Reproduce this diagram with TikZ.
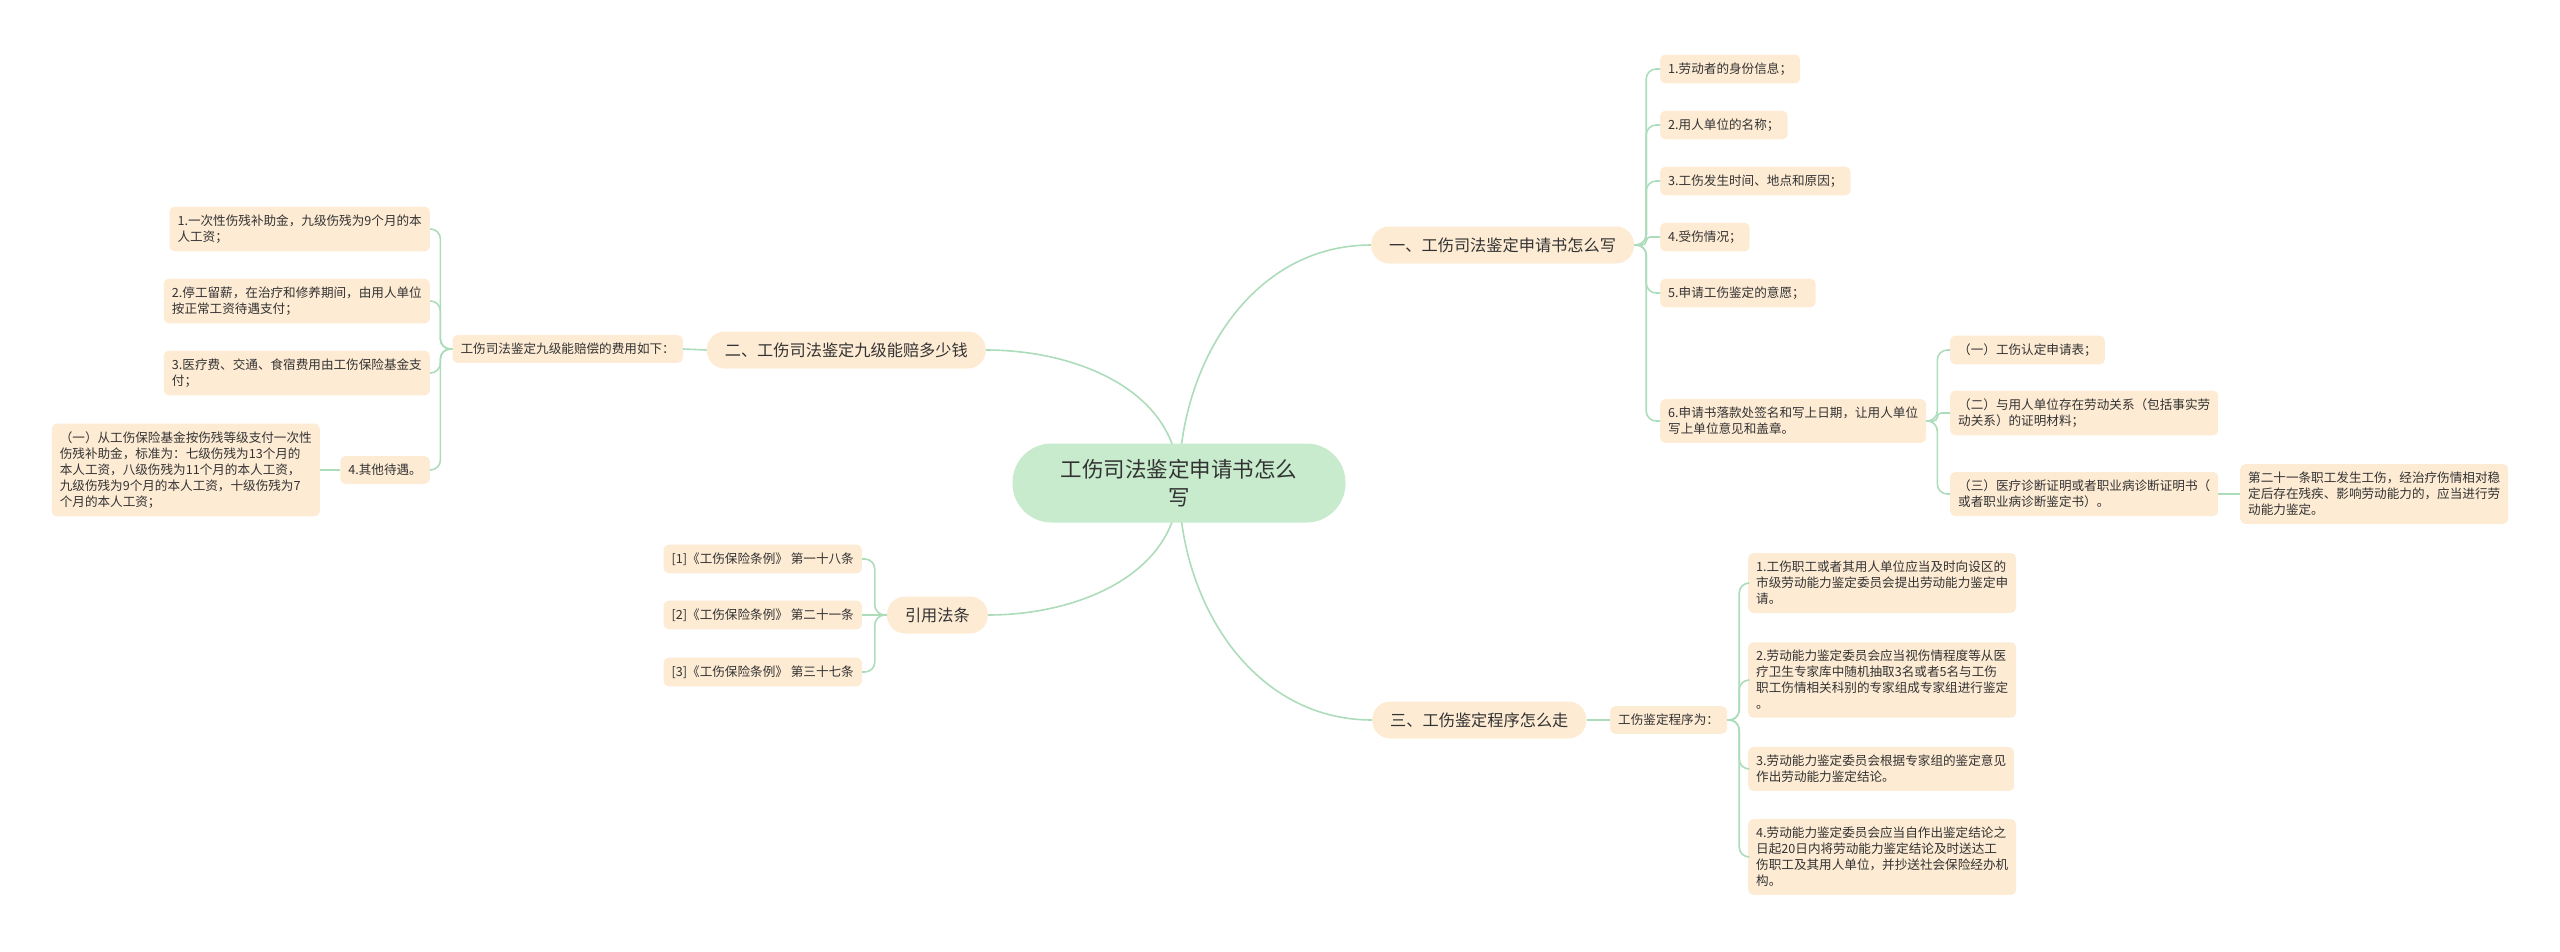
\documentclass[tikz,border=0pt]{standalone}
\usepackage{fontspec}
\newfontfamily\cjk{Noto Sans CJK SC}
\usetikzlibrary{backgrounds}
\definecolor{rootgreen}{RGB}{199,235,204}
\definecolor{peach}{RGB}{253,235,212}
\definecolor{linegreen}{RGB}{172,220,186}
\definecolor{textdark}{RGB}{51,51,51}

\begin{document}
\begin{tikzpicture}[x=1pt,y=-1pt]
	\tikzset{
		root/.style={fill=rootgreen,text=textdark,rounded corners=39pt,minimum width=333pt,minimum height=79pt,align=center,font=\cjk\fontsize{21.5}{28}\selectfont},
		topic/.style={fill=peach,text=textdark,rounded corners=18pt,minimum height=37pt,inner xsep=18pt,font=\cjk\fontsize{16.2}{20}\selectfont},
		leaf/.style={fill=peach,text=textdark,rounded corners=5pt,inner xsep=8pt,inner ysep=8pt,align=left,font=\cjk\fontsize{12.6}{16}\selectfont},
		link/.style={draw=linegreen,line width=1.6pt,rounded corners=10pt}
	}
	\useasboundingbox (0,0) rectangle (2560,951);
	% centre and main topics
	\node[root] (root) at (1179,483) {工伤司法鉴定申请书怎么\\写};
	\node[topic,anchor=west] (one) at (1371,245) {一、工伤司法鉴定申请书怎么写};
	\node[topic,anchor=east] (two) at (986,350) {二、工伤司法鉴定九级能赔多少钱};
	\node[topic,anchor=west] (three) at (1372,720) {三、工伤鉴定程序怎么走};
	\node[topic,anchor=east] (law) at (988,615) {引用法条};
	\begin{pgfonlayer}{background}
		\draw[link] (root.center) to[out=90,in=180] (one.west);
		\draw[link] (root.center) to[out=90,in=0] (two.east);
		\draw[link] (root.center) to[out=-90,in=180] (three.west);
		\draw[link] (root.center) to[out=-90,in=0] (law.east);
	\end{pgfonlayer}

	% topic one
	\coordinate (one-t) at ([xshift=12pt]one.east);
	\foreach \n/\y/\r/\t in {
		b1/69/10/{1.劳动者的身份信息；},
		b2/125/10/{2.用人单位的名称；},
		b3/181/10/{3.工伤发生时间、地点和原因；},
		b4/237/4/{4.受伤情况；},
		b5/293/10/{5.申请工伤鉴定的意愿；}
	}{
		\node[leaf,anchor=west] (\n) at (1660,\y) {\t};
		\draw[link,rounded corners=\r pt] (one.east) -- (one-t) |- (\n.west);
	}
	\node[leaf,anchor=west] (b6) at (1660,421) {6.申请书落款处签名和写上日期，让用人单位\\写上单位意见和盖章。};
	\draw[link] (one.east) -- (one-t) |- (b6.west);
	\coordinate (b6-t) at ([xshift=11pt]b6.east);
	\node[leaf,anchor=west] (c1) at (1950,350) {（一）工伤认定申请表；};
	\node[leaf,anchor=west] (c2) at (1950,413) {（二）与用人单位存在劳动关系（包括事实劳\\动关系）的证明材料；};
	\node[leaf,anchor=west] (c3) at (1950,494) {（三）医疗诊断证明或者职业病诊断证明书（\\或者职业病诊断鉴定书）。};
	\draw[link] (b6.east) -- (b6-t) |- (c1.west);
	\draw[link,rounded corners=4pt] (b6.east) -- (b6-t) |- (c2.west);
	\draw[link] (b6.east) -- (b6-t) |- (c3.west);
	\node[leaf,anchor=west] (d1) at (2240,494) {第二十一条职工发生工伤，经治疗伤情相对稳\\定后存在残疾、影响劳动能力的，应当进行劳\\动能力鉴定。};
	\draw[link] (c3.east) -- (d1.west);

	% topic three
	\node[leaf,anchor=west] (e0) at (1610,720) {工伤鉴定程序为：};
	\draw[link] (three.east) -- (e0.west);
	\coordinate (e0-t) at ([xshift=12pt]e0.east);
	\node[leaf,anchor=west] (f1) at (1748,583) {1.工伤职工或者其用人单位应当及时向设区的\\市级劳动能力鉴定委员会提出劳动能力鉴定申\\请。};
	\node[leaf,anchor=west] (f2) at (1748,680) {2.劳动能力鉴定委员会应当视伤情程度等从医\\疗卫生专家库中随机抽取3名或者5名与工伤\\职工伤情相关科别的专家组成专家组进行鉴定\\。};
	\node[leaf,anchor=west] (f3) at (1748,769) {3.劳动能力鉴定委员会根据专家组的鉴定意见\\作出劳动能力鉴定结论。};
	\node[leaf,anchor=west] (f4) at (1748,857) {4.劳动能力鉴定委员会应当自作出鉴定结论之\\日起20日内将劳动能力鉴定结论及时送达工\\伤职工及其用人单位，并抄送社会保险经办机\\构。};
	\foreach \n in {f1,f2,f3,f4}
		\draw[link] (e0.east) -- (e0-t) |- (\n.west);

	% topic two
	\node[leaf,anchor=east] (g0) at (683,349) {工伤司法鉴定九级能赔偿的费用如下：};
	\draw[link] (two.west) -- (g0.east);
	\coordinate (g0-t) at ([xshift=-12pt]g0.west);
	\node[leaf,anchor=east] (h1) at (430,229) {1.一次性伤残补助金，九级伤残为9个月的本\\人工资；};
	\node[leaf,anchor=east] (h2) at (430,301) {2.停工留薪，在治疗和修养期间，由用人单位\\按正常工资待遇支付；};
	\node[leaf,anchor=east] (h3) at (430,373) {3.医疗费、交通、食宿费用由工伤保险基金支\\付；};
	\node[leaf,anchor=east] (h4) at (430,470) {4.其他待遇。};
	\foreach \n in {h1,h2,h3,h4}
		\draw[link] (g0.west) -- (g0-t) |- (\n.east);
	\node[leaf,anchor=east] (i1) at (320,470) {（一）从工伤保险基金按伤残等级支付一次性\\伤残补助金，标准为：七级伤残为13个月的\\本人工资，八级伤残为11个月的本人工资，\\九级伤残为9个月的本人工资，十级伤残为7\\个月的本人工资；};
	\draw[link] (h4.west) -- (i1.east);

	% cited articles
	\coordinate (law-t) at ([xshift=-12pt]law.west);
	\node[leaf,anchor=east] (j1) at (862,559) {[1]《工伤保险条例》 第一十八条};
	\node[leaf,anchor=east] (j2) at (862,615) {[2]《工伤保险条例》 第二十一条};
	\node[leaf,anchor=east] (j3) at (862,672) {[3]《工伤保险条例》 第三十七条};
	\draw[link] (law.west) -- (law-t) |- (j1.east);
	\draw[link] (law.west) -- (j2.east);
	\draw[link] (law.west) -- (law-t) |- (j3.east);
\end{tikzpicture}
\end{document}
